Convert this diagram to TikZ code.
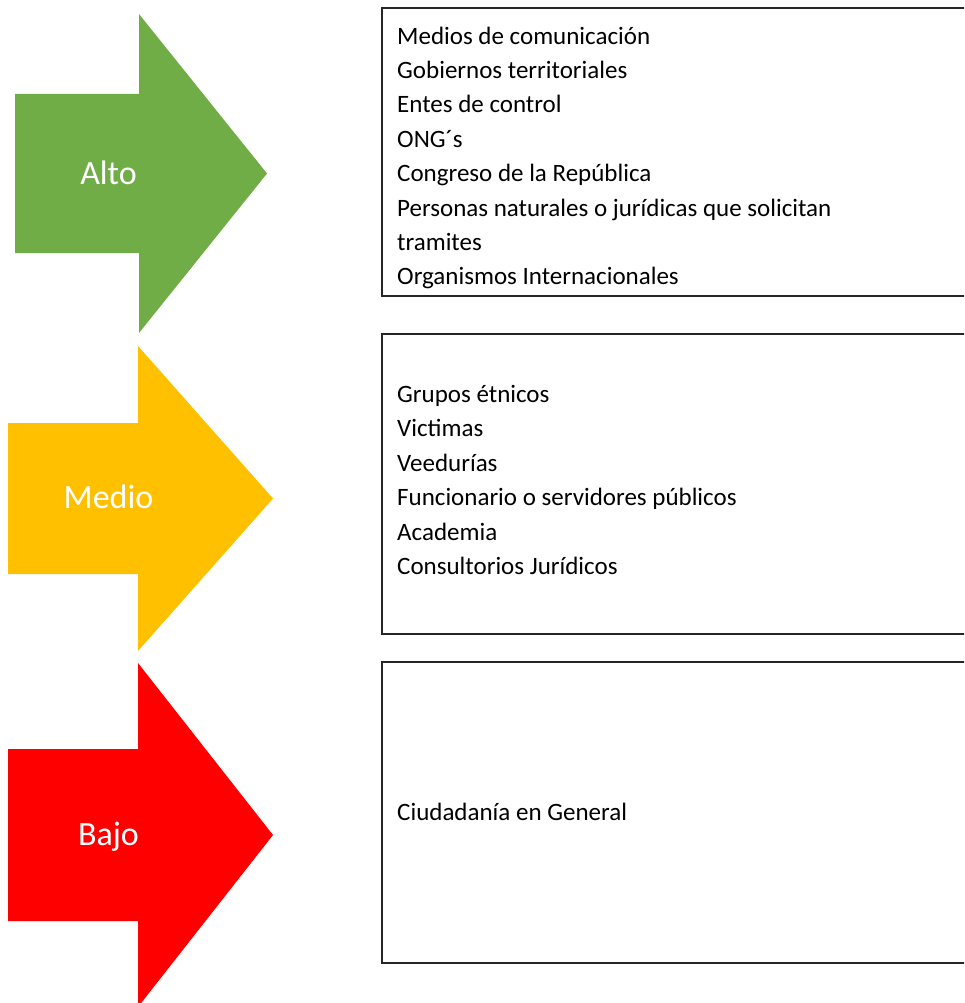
\documentclass[tikz,border=0pt]{standalone}
\usepackage{fontspec}
\setmainfont{Carlito}
\definecolor{altogreen}{HTML}{70AD47}
\definecolor{medioyellow}{HTML}{FFC000}
\definecolor{bajored}{HTML}{FF0000}
\tikzstyle{level} = [
  anchor=base,
  text=white,
  font=\fontsize{34}{40}\selectfont
]
\tikzstyle{groupbox} = [
  rectangle,
  anchor=north west,
  draw=black!85,
  line width=2pt,
  minimum width=620pt
]
\tikzstyle{grouplist} = [
  anchor=west,
  inner sep=0pt,
  align=left,
  font=\fontsize{25}{34.4}\selectfont
]

\begin{document}
\begin{tikzpicture}[x=1pt, y=-1pt]
    \clip (0,0) rectangle (964,1003);

    % level arrows
    \fill[altogreen] (15,94) -- (139,94) -- (139,14) -- (267,173.5) -- (139,333) -- (139,253) -- (15,253) -- cycle;
    \fill[medioyellow] (8,423) -- (138,423) -- (138,346) -- (273,498.5) -- (138,651) -- (138,574) -- (8,574) -- cycle;
    \fill[bajored] (8,749) -- (138,749) -- (138,663) -- (273,835) -- (138,1007) -- (138,921) -- (8,921) -- cycle;

    \node (alto) [level] at (108.5,185) {Alto};
    \node (medio) [level] at (108.5,508) {Medio};
    \node (bajo) [level] at (108.5,845) {Bajo};

    % stakeholder boxes
    \node (alto-box) [groupbox, minimum height=288pt] at (381,7) {};
    \node (medio-box) [groupbox, minimum height=300pt] at (381,333) {};
    \node (bajo-box) [groupbox, minimum height=301pt] at (381,661) {};

    \node (alto-list) [grouplist] at (397,158) {Medios de comunicación\\
      Gobiernos territoriales\\
      Entes de control\\
      ONG´s\\
      Congreso de la República\\
      Personas naturales o jurídicas que solicitan\\
      tramites\\
      Organismos Internacionales};
    \node (medio-list) [grouplist] at (397,480) {Grupos étnicos\\
      Victimas\\
      Veedurías\\
      Funcionario o servidores públicos\\
      Academia\\
      Consultorios Jurídicos};
    \node (bajo-list) [grouplist] at (397,812) {Ciudadanía en General};
  \end{tikzpicture}
\end{document}
